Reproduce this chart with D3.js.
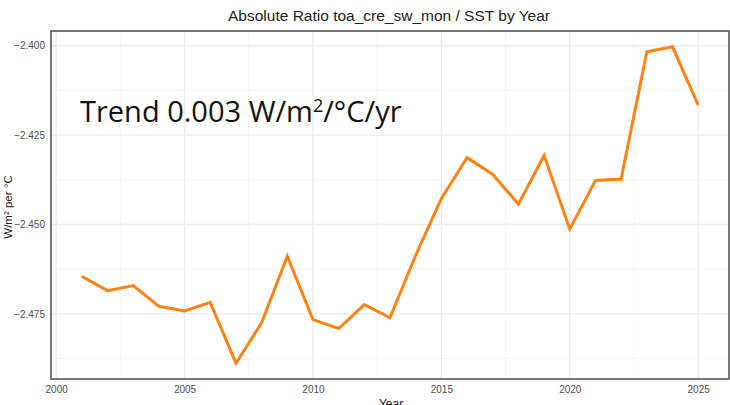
<!DOCTYPE html>
<html>
<head>
<meta charset="utf-8">
<script src="https://cdn.jsdelivr.net/npm/d3@7"></script>
<style>
  html, body { margin: 0; padding: 0; background: #fff; }
  svg { display: block; }
</style>
</head>
<body>
<svg id="chart" width="730" height="405"></svg>
<script>
// Yearly absolute ratio of TOA CRE shortwave to SST
const years = [2001, 2002, 2003, 2004, 2005, 2006, 2007, 2008, 2009, 2010, 2011, 2012, 2013,
               2014, 2015, 2016, 2017, 2018, 2019, 2020, 2021, 2022, 2023, 2024, 2025];
const ratio = [-2.4645, -2.4685, -2.4671, -2.4729, -2.4742, -2.4718, -2.4888, -2.4775, -2.4589,
               -2.4766, -2.4791, -2.4724, -2.4761, -2.4586, -2.4427, -2.4313, -2.4360, -2.4443,
               -2.4307, -2.4513, -2.4377, -2.4373, -2.4017, -2.4003, -2.4166];
const xTicks = [2000, 2005, 2010, 2015, 2020, 2025];
const xMinor = [2002.5, 2007.5, 2012.5, 2017.5, 2022.5];
const yTicks = [-2.400, -2.425, -2.450, -2.475];
const yMinor = [-2.4125, -2.4375, -2.4625, -2.4875];

const titleText = "Absolute Ratio toa_cre_sw_mon / SST by Year";
const xLabel = "Year";
const yLabel = "W/m² per °C";

const svg = d3.select("#chart");
const panel = { left: 51, top: 31, right: 729, bottom: 379 };

// ggplot-style 5% expansion around the data range
const xr = d3.extent(years), yr = d3.extent(ratio);
const xPad = (xr[1] - xr[0]) * 0.05, yPad = (yr[1] - yr[0]) * 0.05;
const x = d3.scaleLinear().domain([xr[0] - xPad, xr[1] + xPad]).range([panel.left, panel.right]);
const y = d3.scaleLinear().domain([yr[0] - yPad, yr[1] + yPad]).range([panel.bottom, panel.top]);

const font = "'Liberation Sans', Arial, sans-serif";

// heading fragment at the very top edge
svg.append("text")
  .attr("x", 390).attr("y", 0)
  .attr("text-anchor", "middle")
  .attr("font-family", font).attr("font-size", 12)
  .attr("fill", "#bbb")
  .text(xLabel);

// title
svg.append("text")
  .attr("x", 389).attr("y", 21)
  .attr("text-anchor", "middle")
  .attr("font-family", font).attr("font-size", 15.5)
  .attr("fill", "#222")
  .text(titleText);

const grid = svg.append("g");
// minor gridlines
grid.selectAll(".xmin").data(xMinor).join("line")
  .attr("x1", d => x(d)).attr("x2", d => x(d))
  .attr("y1", panel.top).attr("y2", panel.bottom)
  .attr("stroke", "#f4f4f4").attr("stroke-width", 0.8);
grid.selectAll(".ymin").data(yMinor).join("line")
  .attr("x1", panel.left).attr("x2", panel.right)
  .attr("y1", d => y(d)).attr("y2", d => y(d))
  .attr("stroke", "#f4f4f4").attr("stroke-width", 0.8);
// major gridlines
grid.selectAll(".xmaj").data(xTicks).join("line")
  .attr("x1", d => x(d)).attr("x2", d => x(d))
  .attr("y1", panel.top).attr("y2", panel.bottom)
  .attr("stroke", "#ebebeb").attr("stroke-width", 1.3);
grid.selectAll(".ymaj").data(yTicks).join("line")
  .attr("x1", panel.left).attr("x2", panel.right)
  .attr("y1", d => y(d)).attr("y2", d => y(d))
  .attr("stroke", "#ebebeb").attr("stroke-width", 1.3);

// axes (labels only, no tick marks)
const xAxis = svg.append("g")
  .attr("transform", `translate(0,${panel.bottom})`)
  .call(d3.axisBottom(x).tickValues(xTicks).tickFormat(d3.format("d")).tickSize(0).tickPadding(7));
const yAxis = svg.append("g")
  .attr("transform", `translate(${panel.left},0)`)
  .call(d3.axisLeft(y).tickValues(yTicks).tickFormat(d3.format(".3f")).tickSize(0).tickPadding(6));
[xAxis, yAxis].forEach(a => {
  a.select(".domain").remove();
  a.selectAll("text").attr("font-family", font).attr("font-size", 10).attr("fill", "#4d4d4d");
});

// data line
svg.append("path")
  .datum(years.map((yy, i) => [yy, ratio[i]]))
  .attr("fill", "none")
  .attr("stroke", "#ff8214")
  .attr("stroke-width", 3)
  .attr("stroke-linejoin", "miter")
  .attr("d", d3.line().x(d => x(d[0])).y(d => y(d[1])));

// panel border
svg.append("rect")
  .attr("x", panel.left).attr("y", panel.top)
  .attr("width", panel.right - panel.left).attr("height", panel.bottom - panel.top)
  .attr("fill", "none").attr("stroke", "#555").attr("stroke-width", 1.6);

// axis titles
svg.append("text")
  .attr("x", 391).attr("y", 408)
  .attr("text-anchor", "middle")
  .attr("font-family", font).attr("font-size", 12).attr("fill", "#222")
  .text(xLabel);
svg.append("text")
  .attr("transform", `translate(12,${(panel.top + panel.bottom) / 2 + 2}) rotate(-90)`)
  .attr("text-anchor", "middle")
  .attr("font-family", font).attr("font-size", 11.5).attr("fill", "#222")
  .text(yLabel);

// trend annotation
const trend = svg.append("text")
  .attr("x", 80).attr("y", 122)
  .attr("font-family", "'Open Sans', 'Liberation Sans', Arial, sans-serif")
  .attr("font-size", 29).attr("fill", "#111");
trend.append("tspan").text("Trend 0.003 W/m");
trend.append("tspan").attr("dy", -10).attr("font-size", 18).text("2");
trend.append("tspan").attr("dy", 10).text("/°C/yr");
</script>
</body>
</html>
